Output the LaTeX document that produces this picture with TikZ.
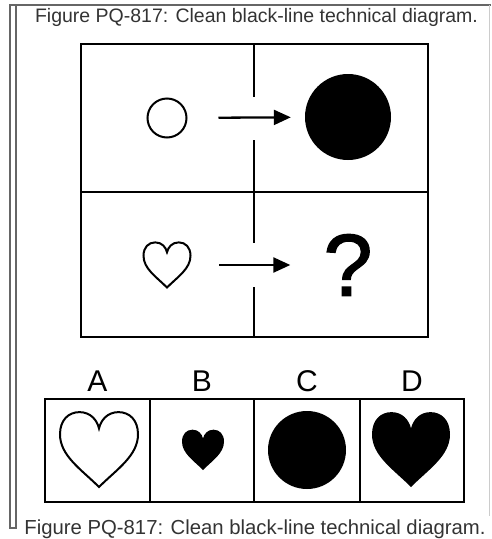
\documentclass[tikz,border=0pt]{standalone}
\usepackage{fontspec}
\setmainfont{Liberation Sans}
\newfontfamily\qmarkfont[FakeBold=1.5]{Liberation Sans}
\usetikzlibrary{arrows.meta,positioning}

\tikzset{
  heavy/.style={line width=2pt},
  optbox/.style={draw,heavy,minimum width=105pt,minimum height=103pt,inner sep=0pt,outer sep=0pt},
  optlabel/.style={font=\fontsize{30}{30}\selectfont,inner sep=0pt},
  caption/.style={font=\fontsize{19.5}{20}\selectfont,text=black!80,inner sep=0pt},
  step arrow/.style={line width=2.3pt,-{Triangle[length=17pt,width=15pt]}},
  heart/.pic={
    \path[pic actions] (0,1) .. controls (-0.45,0.55) and (-1,0.2) .. (-1,-0.35)
      .. controls (-1,-0.72) and (-0.78,-0.92) .. (-0.5,-0.92)
      .. controls (-0.22,-0.92) and (-0.05,-0.72) .. (0,-0.5)
      .. controls (0.05,-0.72) and (0.22,-0.92) .. (0.5,-0.92)
      .. controls (0.78,-0.92) and (1,-0.72) .. (1,-0.35)
      .. controls (1,0.2) and (0.45,0.55) .. (0,1) -- cycle;
  }
}

\begin{document}
\begin{tikzpicture}[x=1pt,y=-1pt]
\useasboundingbox (0,0) rectangle (491,539);
% outer frame
\draw[black!60,line width=1.2pt] (491,5) -- (10,5) -- (10,528) -- (16,528) -- (16,5);
\draw[black!20,line width=0.8pt] (489,5) -- (489,516);
\node[caption] (cap1) at (256.5,17) {Figure PQ-817: Clean black-line technical diagram.};
\node[caption,font=\fontsize{20.3}{21}\selectfont] (cap2) at (255,529) {Figure PQ-817: Clean black-line technical diagram.};

% question panel
\draw[heavy] (81,44) rectangle (428,337);
\draw[heavy] (81,192) -- (428,192);
\draw[heavy] (254,44) -- (254,97);
\draw[heavy] (254,140) -- (254,243);
\draw[heavy] (254,287) -- (254,337);

\node[draw,heavy,circle,inner sep=0pt,minimum size=39pt] (c1) at (167,118) {};
\node[fill,circle,inner sep=0pt,minimum size=86pt] (c2) at (348,117) {};
\draw[step arrow,shorten <=31pt,shorten >=14pt] (c1) -- (c2);

\pic[draw,heavy,scale=23.5] at (167,264) {heart};
\coordinate (h1) at (167,265);
\node[inner sep=0pt,font=\qmarkfont\fontsize{88}{88}\selectfont] (q) at (348,265) {?};
\draw[step arrow,shorten <=52pt,shorten >=33pt] (h1) -- (q);

% answer options
\node[optbox] (oA) at (97.5,450.5) {};
\node[optbox,right=0pt of oA,minimum width=104pt] (oB) {};
\node[optbox,right=0pt of oB,minimum width=106pt] (oC) {};
\node[optbox,right=0pt of oC,minimum width=104pt] (oD) {};
\node[optlabel,above=7pt of oA] (lA) {A};
\node[optlabel,above=7pt of oB] (lB) {B};
\node[optlabel,above=7pt of oC] (lC) {C};
\node[optlabel,above=7pt of oD] (lD) {D};

\pic[draw,heavy,scale=39] at (99,448) {heart};
\pic[fill,scale=21] at (203,449) {heart};
\node[fill,circle,inner sep=0pt,minimum size=78pt] (cC) at (307,450) {};
\pic[fill,scale=39] at (411,448) {heart};
\end{tikzpicture}
\end{document}
